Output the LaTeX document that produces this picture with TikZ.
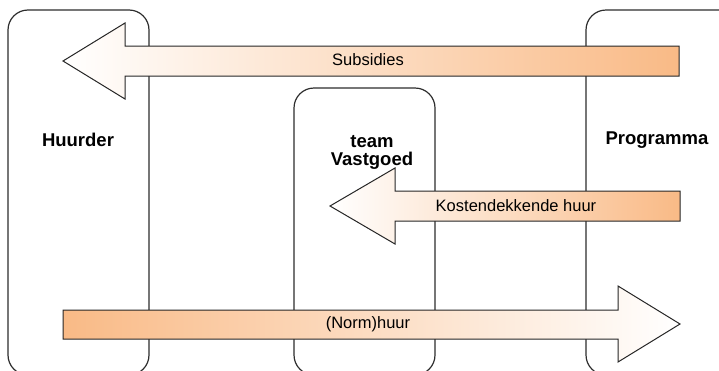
\documentclass[tikz,border=0pt]{standalone}
\usepackage{fontspec}
\setmainfont{Liberation Sans}
\usetikzlibrary{positioning}

\definecolor{oranje}{RGB}{249,186,134}
\definecolor{kader}{RGB}{45,45,45}

\begin{document}
\begin{tikzpicture}[x=1pt,y=-1pt,
	party/.style={draw=kader,line width=1.2pt,rounded corners=20pt},
	flow/.style={draw=black!85,line width=1pt,line join=miter},
	naam/.style={font=\fontsize{18.5}{21}\selectfont\bfseries,align=center},
	label/.style={font=\fontsize{16.5}{19}\selectfont,inner sep=0pt}]

	\useasboundingbox (0,0) rectangle (719,370);
	\clip (0,0) rectangle (719,370);

	% the three parties
	\draw[party] (8,10) rectangle (149,375);
	\draw[party] (294,88) rectangle (435,375);
	\draw[party] (586,10) rectangle (740,375);

	\node[naam] (huurder) at (78,140) {Huurder};
	\node[naam] (programma) at (657,140) {Programma};
	\node[naam] (team) at (372,152) {team\\[-3pt]Vastgoed};

	% money flows
	\shade[flow,left color=white,right color=oranje]
		(679,46) -- (125,46) -- (125,23) -- (63,61) -- (125,99) -- (125,76) -- (679,76) -- cycle;
	\shade[flow,left color=white,right color=oranje]
		(680,191) -- (395,191) -- (395,168) -- (330,206) -- (395,244) -- (395,221) -- (680,221) -- cycle;
	\shade[flow,left color=oranje,right color=white]
		(63,310) -- (618,310) -- (618,286) -- (680,324) -- (618,362) -- (618,339) -- (63,339) -- cycle;

	\node[label] (subsidies) at (368,60) {Subsidies};
	\node[label] (kosten) at (516,206) {Kostendekkende huur};
	\node[label] (norm) at (368,324) {(Norm)huur};

\end{tikzpicture}
\end{document}
